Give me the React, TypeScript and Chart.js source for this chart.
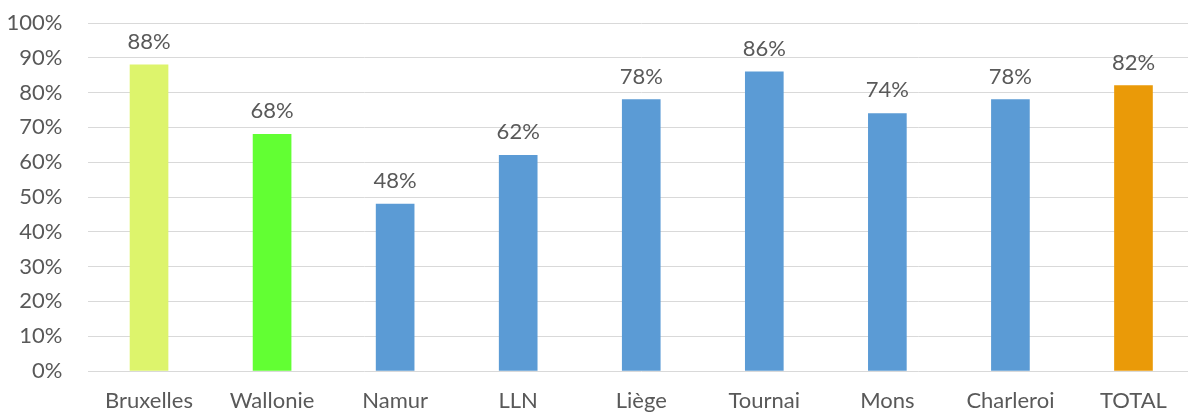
import React, { useEffect, useRef } from "react";
import { Chart, registerables } from "chart.js";

Chart.register(...registerables);

const categories = ["Bruxelles", "Wallonie", "Namur", "LLN", "Liège", "Tournai", "Mons", "Charleroi", "TOTAL"];
const values = [88, 68, 48, 62, 78, 86, 74, 78, 82];
const barColors = ["#DDF46C", "#62FF33", "#5B9BD5", "#5B9BD5", "#5B9BD5", "#5B9BD5", "#5B9BD5", "#5B9BD5", "#EA9A08"];
const yTicks = [0, 10, 20, 30, 40, 50, 60, 70, 80, 90, 100];

const FONT = "Lato, 'Open Sans', sans-serif";
const SIZE = 22;

const labelPlugin = {
  id: "valueLabels",
  afterDatasetsDraw(chart: any) {
    const ctx = chart.ctx;
    const meta = chart.getDatasetMeta(0);
    ctx.save();
    ctx.font = `${SIZE}px ${FONT}`;
    ctx.fillStyle = "#595959";
    ctx.textAlign = "center";
    ctx.textBaseline = "alphabetic";
    meta.data.forEach((bar: any, i: number) => {
      ctx.fillText(values[i] + "%", bar.x, bar.y - 16);
    });
    ctx.restore();
  },
};

export default function App() {
  const ref = useRef<HTMLCanvasElement>(null);
  useEffect(() => {
    document.body.style.margin = "0";
    const chart = new Chart(ref.current!, {
      type: "bar",
      data: {
        labels: categories,
        datasets: [
          {
            data: values,
            backgroundColor: barColors,
            barThickness: 38,
            categoryPercentage: 1,
          },
        ],
      },
      options: {
        animation: false,
        responsive: false,
        maintainAspectRatio: false,
        layout: { padding: { top: 23, right: 0, left: 0, bottom: 0 } },
        plugins: { legend: { display: false }, tooltip: { enabled: false } },
        scales: {
          x: {
            grid: { display: false },
            border: { display: false },
            ticks: { color: "#595959", font: { family: FONT, size: SIZE }, padding: 9, maxRotation: 0, autoSkip: false },
            afterFit: (s: any) => { s.height = 43; s.paddingLeft = 0; s.paddingRight = 0; },
          },
          y: {
            min: 0,
            max: 100,
            afterBuildTicks: (s: any) => { s.ticks = yTicks.map((v) => ({ value: v })); },
            ticks: {
              color: "#595959",
              font: { family: FONT, size: SIZE },
              padding: 25,
              callback: (v: any) => v + "%",
            },
            grid: { color: "#D9D9D9", lineWidth: 1, drawTicks: false },
            border: { display: false },
            afterFit: (s: any) => { s.width = 87.5; s.paddingTop = 0; s.paddingBottom = 0; },
          },
        },
      },
      plugins: [labelPlugin],
    });
    return () => chart.destroy();
  }, []);
  return (
    <div style={{ position: "relative", width: 1188, height: 414, overflow: "hidden", background: "#fff" }}>
      <canvas ref={ref} width={1195} height={414} style={{ display: "block" }} />
    </div>
  );
}
